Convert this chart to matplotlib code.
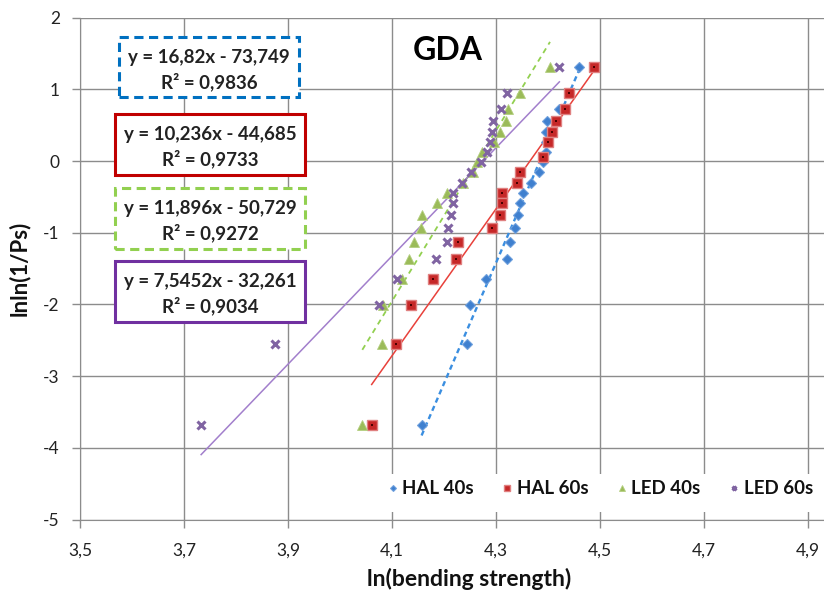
import numpy as np
import matplotlib.pyplot as plt
from matplotlib.patches import Rectangle
from matplotlib.ticker import FuncFormatter

W, H = 824, 599
plt.rcParams['font.family'] = ['Lato', 'DejaVu Sans']

# values: x = ln(bending strength), y = lnln(1/Ps)
hal40_x = [4.460, 4.440, 4.422, 4.399, 4.397, 4.396, 4.396, 4.391, 4.383, 4.367,
           4.352, 4.347, 4.343, 4.337, 4.327, 4.322, 4.280, 4.250, 4.245, 4.157]
hal40_y = [1.31, 0.95, 0.73, 0.56, 0.40, 0.26, 0.12, -0.02, -0.16, -0.30,
           -0.44, -0.59, -0.76, -0.93, -1.13, -1.37, -1.65, -2.01, -2.55, -3.68]

hal60_x = [4.489, 4.441, 4.433, 4.415, 4.408, 4.401, 4.391, 4.346, 4.341, 4.311,
           4.311, 4.308, 4.292, 4.227, 4.223, 4.179, 4.137, 4.107, 4.061]
hal60_y = [1.31, 0.95, 0.73, 0.56, 0.40, 0.26, 0.06, -0.16, -0.30, -0.44,
           -0.59, -0.76, -0.93, -1.13, -1.37, -1.65, -2.01, -2.55, -3.68]

led40_x = [4.404, 4.347, 4.324, 4.319, 4.307, 4.296, 4.274, 4.263, 4.256, 4.236,
           4.206, 4.186, 4.157, 4.155, 4.142, 4.133, 4.120, 4.083, 4.080, 4.043]
led40_y = [1.31, 0.95, 0.73, 0.56, 0.40, 0.26, 0.12, -0.02, -0.16, -0.30,
           -0.44, -0.59, -0.76, -0.93, -1.13, -1.37, -1.65, -2.01, -2.55, -3.68]

led60_x = [4.422, 4.322, 4.310, 4.295, 4.293, 4.289, 4.282, 4.272, 4.252, 4.234,
           4.218, 4.218, 4.213, 4.208, 4.205, 4.185, 4.110, 4.076, 3.876, 3.733]
led60_y = [1.31, 0.95, 0.73, 0.56, 0.40, 0.26, 0.12, -0.02, -0.16, -0.30,
           -0.44, -0.59, -0.76, -0.93, -1.13, -1.37, -1.65, -2.01, -2.55, -3.68]

# trendlines as given in the chart labels
slopes = [16.82, 10.236, 11.896, 7.5452]
intercepts = [-73.749, -44.685, -50.729, -32.261]
eq_labels = ['y = 16,82x - 73,749', 'y = 10,236x - 44,685',
             'y = 11,896x - 50,729', 'y = 7,5452x - 32,261']
r2_labels = ['R² = 0,9836', 'R² = 0,9733', 'R² = 0,9272', 'R² = 0,9034']
series_names = ['HAL 40s', 'HAL 60s', 'LED 40s', 'LED 60s']


def fx(px):
    return px / W


def fy(py):
    return 1 - py / H


fig = plt.figure(figsize=(W / 100, H / 100), dpi=100)
ax = fig.add_axes([fx(80), fy(519.5), fx(824) - fx(80), fy(17.6) - fy(519.5)])
ax.set_xlim(3.5, 4.931)
ax.set_ylim(-5, 2)
ax.set_xticks(np.arange(3.5, 4.95, 0.2))
ax.set_yticks(np.arange(-5, 2.5, 1))
comma = FuncFormatter(lambda v, p: ('%g' % round(v, 1)).replace('.', ','))
ax.xaxis.set_major_formatter(comma)
ax.yaxis.set_major_formatter(comma)
ax.grid(True, color='#8c8c8c', linewidth=1.0)
ax.set_axisbelow(True)
for s in ['top', 'right']:
    ax.spines[s].set_visible(False)
for s in ['left', 'bottom']:
    ax.spines[s].set_color('#8c8c8c')
ax.tick_params(axis='both', color='#8c8c8c', length=5.5, width=1,
               labelsize=12.5, labelcolor='#222222')
ax.tick_params(axis='y', pad=9)
ax.tick_params(axis='x', pad=11)

# white band behind the legend, hides the grid
ax.add_patch(Rectangle((fx(385), fy(512)), fx(824) - fx(385), fy(474) - fy(512),
                       transform=fig.transFigure, facecolor='white',
                       edgecolor='none', zorder=1.5, clip_on=False))

# trendlines
line_styles = [dict(color='#3a8ee0', lw=1.7, dashes=(2.2, 1.6)),
               dict(color='#e8413b', lw=1.1),
               dict(color='#92d050', lw=1.3, dashes=(3, 2.5)),
               dict(color='#a27fcc', lw=1.1)]
all_x = [hal40_x, hal60_x, led40_x, led60_x]
for xs, k, b, st in zip(all_x, slopes, intercepts, line_styles):
    xx = np.array([min(xs), max(xs)])
    ax.plot(xx, k * xx + b, zorder=2, **st)

# data points
ax.plot(hal40_x, hal40_y, 'D', ms=5, color='#3f80cf', mec='#6fa0dd', mew=0.8,
        zorder=3, label=series_names[0])
ax.plot(hal60_x, hal60_y, 's', ms=6.5, color='#c62828', mec='#e08080', mew=1,
        zorder=3, label=series_names[1])
ax.plot(hal60_x, hal60_y, 's', ms=1.8, color='#4a0000', mew=0, zorder=3.1)
ax.plot(led40_x, led40_y, '^', ms=7, color='#9bbb59', mec='#b4cf80', mew=0.6,
        zorder=3, label=series_names[2])
ax.plot(led60_x, led60_y, 'x', ms=5.5, color='#8064a2', mew=2.2,
        zorder=3, label=series_names[3])

leg = ax.legend(loc='center', bbox_to_anchor=(fx(600), fy(489)),
                bbox_transform=fig.transFigure, ncol=4, frameon=False,
                markerscale=0.6, handlelength=0.6, handletextpad=0.2,
                columnspacing=1.5, prop=dict(size=13.5, weight='bold'))
leg.set_zorder(6)
for t in leg.get_texts():
    t.set_color('#111111')

# equation boxes
box_px = [(119, 37, 299, 97), (115, 114, 305, 175),
          (115, 188, 305, 249), (115, 261, 305, 322)]
box_styles = [dict(edgecolor='#0070c0', linestyle=(0, (3, 1.8)), linewidth=2.2),
              dict(edgecolor='#c00000', linestyle='-', linewidth=2.2),
              dict(edgecolor='#92d050', linestyle=(0, (3, 1.8)), linewidth=2.2),
              dict(edgecolor='#7030a0', linestyle='-', linewidth=2.2)]
for (x0, y0, x1, y1), st, e, r in zip(box_px, box_styles, eq_labels, r2_labels):
    fig.add_artist(Rectangle((fx(x0), fy(y1)), fx(x1) - fx(x0), fy(y0) - fy(y1),
                             transform=fig.transFigure, facecolor='white',
                             zorder=4, **st))
    cx = fx((x0 + x1) / 2)
    fig.text(cx, fy(y0 + (y1 - y0) * 0.34), e, ha='center', va='center',
             fontsize=13.5, fontweight='bold', color='#222222', zorder=5)
    fig.text(cx, fy(y0 + (y1 - y0) * 0.74), r, ha='center', va='center',
             fontsize=13.5, fontweight='bold', color='#222222', zorder=5)

fig.text(fx(448), fy(50), 'GDA', ha='center', va='center', fontsize=23,
         fontweight='bold', color='#000000')
fig.text(fx(469), fy(579), 'ln(bending strength)', ha='center', va='center',
         fontsize=16.5, fontweight='bold', color='#111111')
fig.text(fx(19), fy(268), 'lnln(1/Ps)', ha='center', va='center', rotation=90,
         fontsize=16, fontweight='bold', color='#111111')

fig.savefig('out.png', dpi=100)
